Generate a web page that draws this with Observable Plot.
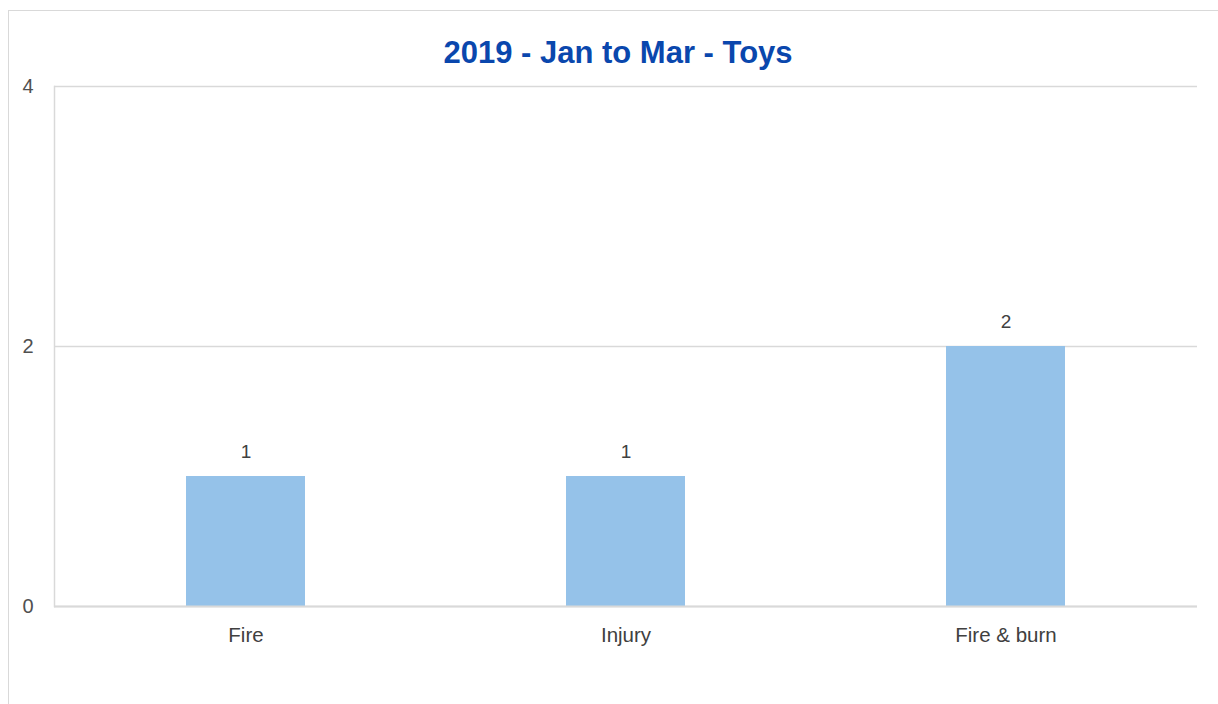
<!DOCTYPE html>
<html>
<head>
<meta charset="utf-8">
<script src="https://cdn.jsdelivr.net/npm/d3@7"></script>
<script src="https://cdn.jsdelivr.net/npm/@observablehq/plot@0.6"></script>
<style>
  html, body { margin: 0; padding: 0; background: #fff; overflow: hidden; }
  #frame {
    position: absolute; left: 8px; top: 10px; width: 1218px; height: 700px;
    border-left: 1px solid #d9d9d9; border-top: 1px solid #d9d9d9;
    font-family: "Liberation Sans Narrow", "Arial Narrow", "Liberation Sans", Arial, sans-serif;
  }
  #title {
    height: 65px; line-height: 65px; text-align: center;
    font-size: 31px; font-weight: bold; color: #0a47ad;
    white-space: nowrap; position: relative; top: 9px;
  }
  #chart svg { display: block; }
</style>
</head>
<body>
<div id="frame">
  <div id="title">2019 - Jan to Mar - Toys</div>
  <div id="chart"></div>
</div>
<script>
const categories = ["Fire", "Injury", "Fire & burn"];
const counts = [1, 1, 2];
const yTicks = [0, 2, 4];

const data = categories.map((c, i) => ({category: c, count: counts[i]}));

const chart = Plot.plot({
  width: 1209,
  height: 628,
  marginLeft: 45,
  marginRight: 21,
  marginTop: 10,
  marginBottom: 98,
  style: {fontFamily: '"Liberation Sans Narrow", "Arial Narrow", "Liberation Sans", Arial, sans-serif', background: "#fff"},
  x: {domain: categories, paddingInner: 0.6875, paddingOuter: 0.344, label: null},
  y: {domain: [0, 4], label: null},
  marks: [
    Plot.gridY(yTicks, {stroke: "#d9d9d9", strokeOpacity: 1, strokeWidth: 1.5}),
    Plot.frame({anchor: "left", stroke: "#d9d9d9", strokeWidth: 1.5}),
    Plot.barY(data, {x: "category", y: "count", fill: "#95c2e9"}),
    Plot.ruleY([0], {stroke: "#d9d9d9", strokeWidth: 2}),
    Plot.text(data, {x: "category", y: "count", text: d => String(d.count), dy: -25, fill: "#404040", fontSize: 19}),
    Plot.axisY(yTicks, {tickSize: 0, tickPadding: 21, fontSize: 20, fill: "#505050", tickFormat: d => String(d), label: null}),
    Plot.axisX({tickSize: 0, tickPadding: 21, fontSize: 20.5, fill: "#404040", label: null})
  ]
});
document.getElementById("chart").appendChild(chart);
</script>
</body>
</html>
